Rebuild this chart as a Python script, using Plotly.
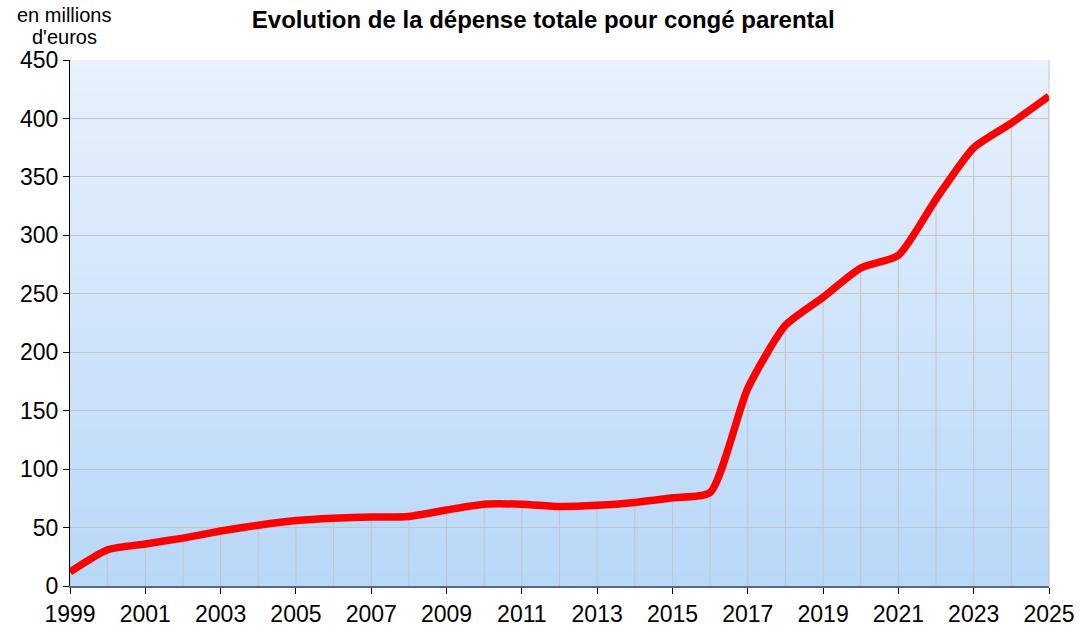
import plotly.graph_objects as go

years = list(range(1999, 2026))
depense = [12, 31, 36, 41, 47, 52, 56, 58, 59, 59.5, 65, 70, 70, 68, 69, 71.5, 75.5, 80,
           169, 223, 247, 272, 283, 331, 375, 396, 419]
tick_years = list(range(1999, 2026, 2))
y_ticks = list(range(0, 451, 50))

title_text = "Evolution de la dépense totale pour congé parental"
unit_line1 = "en millions"
unit_line2 = "d'euros"

fig = go.Figure()

# gradient background bands (overlapping to avoid seams)
n = 80
top = (232, 241, 252)
bot = (184, 216, 248)
for i in range(n):
    t = i / (n - 1)
    c = tuple(round(top[k] + (bot[k] - top[k]) * t) for k in range(3))
    fig.add_shape(type="rect", xref="x domain", yref="y domain",
                  x0=0, x1=1, y0=max(0, 1 - (i + 1.6) / n), y1=1 - i / n,
                  fillcolor="rgb(%d,%d,%d)" % c, line=dict(width=0), layer="below")

# drop lines
dx, dy = [], []
for x, v in zip(years, depense):
    dx += [x, x, None]
    dy += [0, v, None]
fig.add_trace(go.Scatter(x=dx, y=dy, mode="lines", line=dict(color="#c4c4c4", width=1),
                         hoverinfo="skip", showlegend=False))

fig.add_trace(go.Scatter(x=years, y=depense, mode="lines",
                         line=dict(color="#ff0000", width=7.5, shape="spline", smoothing=0.6),
                         showlegend=False))

fig.update_layout(
    width=1080, height=628,
    margin=dict(l=70, r=31, t=60, b=42),
    paper_bgcolor="white",
    plot_bgcolor="rgba(0,0,0,0)",
    font=dict(family="Liberation Sans, Arial, sans-serif", color="black"),
    title=dict(text="<b>" + title_text + "</b>", x=0.503, xanchor="center",
               y=0.968, yanchor="middle", font=dict(size=24)),
    showlegend=False,
)
fig.update_xaxes(range=[1999, 2025], tickvals=tick_years, ticktext=[str(y) for y in tick_years],
                 ticks="outside", ticklen=6, tickcolor="black", tickfont=dict(size=23),
                 showgrid=False, zeroline=False, showline=True, linecolor="#5a6878", linewidth=2,
                 mirror=False, automargin=False)
fig.update_yaxes(range=[0, 450], tickvals=y_ticks, ticks="outside", ticklen=6, tickcolor="black",
                 tickfont=dict(size=23), showgrid=True, gridcolor="#c4c4c4", gridwidth=1,
                 zeroline=False, showline=True, linecolor="black", linewidth=1, automargin=False)
# right border
fig.add_shape(type="line", xref="x domain", yref="y domain", x0=1, x1=1, y0=0, y1=1,
              line=dict(color="#c4c4c4", width=1), layer="below")

fig.add_annotation(text=unit_line1, xref="paper", yref="paper", x=-0.006, y=1.0856,
                   xanchor="center", yanchor="middle", showarrow=False, font=dict(size=20))
fig.add_annotation(text=unit_line2, xref="paper", yref="paper", x=-0.006, y=1.0437,
                   xanchor="center", yanchor="middle", showarrow=False, font=dict(size=20))

fig.write_html("out.html", config={"displayModeBar": False},
               post_script="document.body.style.margin='0';")
